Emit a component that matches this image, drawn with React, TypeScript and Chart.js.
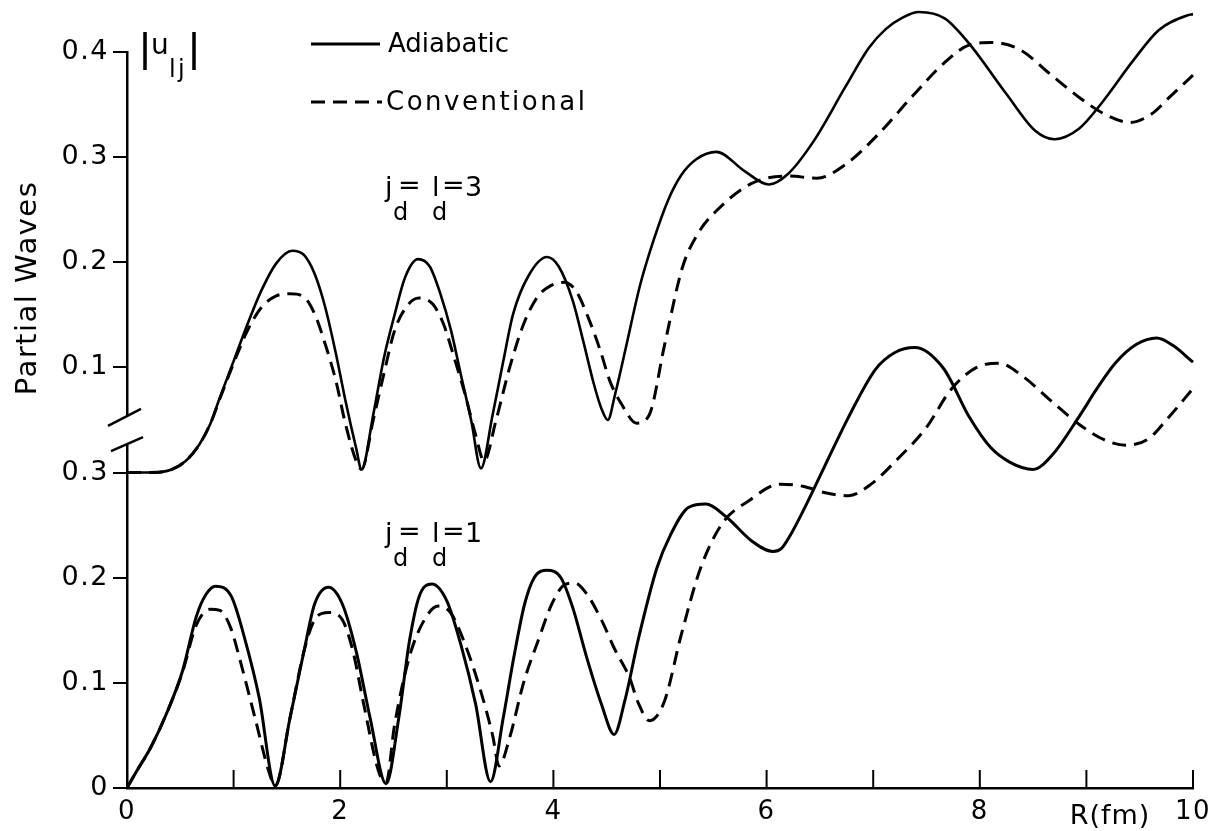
import React, { useEffect, useRef } from "react";
import { Chart, registerables } from "chart.js";

Chart.register(...registerables);

// ---- data (R in fm, |u_lj| values) ----
// j_d = l_d = 1 (lower panel)
const adiabatic1R = [0, 0.09, 0.22, 0.38, 0.52, 0.65, 0.74, 0.83, 0.98, 1.11, 1.24, 1.39, 1.53, 1.66, 1.76, 1.89, 2.02, 2.15, 2.28, 2.43, 2.55, 2.65, 2.74, 2.86, 3.0, 3.13, 3.27, 3.41, 3.53, 3.63, 3.73, 3.82, 3.94, 4.07, 4.18, 4.31, 4.45, 4.57, 4.67, 4.8, 4.97, 5.1, 5.27, 5.43, 5.62, 5.86, 6.06, 6.14, 6.22, 6.33, 6.54, 6.77, 7.02, 7.2, 7.39, 7.66, 7.9, 8.1, 8.28, 8.5, 8.69, 8.93, 9.1, 9.27, 9.47, 9.66, 9.81, 10];
const adiabatic1U = [0, 0.016, 0.038, 0.073, 0.111, 0.163, 0.184, 0.192, 0.182, 0.14, 0.086, 0.002, 0.067, 0.13, 0.175, 0.191, 0.175, 0.13, 0.067, 0.004, 0.067, 0.14, 0.182, 0.194, 0.178, 0.137, 0.08, 0.006, 0.067, 0.125, 0.175, 0.2, 0.207, 0.2, 0.172, 0.125, 0.08, 0.051, 0.083, 0.143, 0.209, 0.241, 0.267, 0.27, 0.258, 0.235, 0.225, 0.228, 0.24, 0.261, 0.305, 0.353, 0.398, 0.414, 0.419, 0.399, 0.353, 0.324, 0.31, 0.303, 0.318, 0.353, 0.38, 0.404, 0.422, 0.428, 0.421, 0.405];
const conventional1R = [0, 0.09, 0.22, 0.38, 0.52, 0.65, 0.78, 0.87, 0.97, 1.07, 1.2, 1.33, 1.39, 1.53, 1.66, 1.76, 1.89, 2.02, 2.12, 2.22, 2.36, 2.43, 2.51, 2.65, 2.79, 2.92, 3.04, 3.17, 3.31, 3.43, 3.49, 3.59, 3.72, 3.86, 3.99, 4.1, 4.2, 4.31, 4.45, 4.58, 4.71, 4.8, 4.9, 5.04, 5.2, 5.38, 5.58, 5.83, 6.13, 6.34, 6.54, 6.77, 6.98, 7.22, 7.5, 7.73, 7.97, 8.18, 8.41, 8.66, 8.93, 9.17, 9.37, 9.58, 9.75, 10];
const conventional1U = [0, 0.016, 0.038, 0.073, 0.11, 0.155, 0.17, 0.169, 0.153, 0.118, 0.067, 0.016, 0.002, 0.067, 0.13, 0.16, 0.167, 0.16, 0.13, 0.08, 0.016, 0.005, 0.06, 0.125, 0.16, 0.173, 0.166, 0.137, 0.095, 0.05, 0.021, 0.048, 0.1, 0.141, 0.176, 0.193, 0.195, 0.185, 0.16, 0.131, 0.106, 0.08, 0.064, 0.082, 0.146, 0.209, 0.251, 0.273, 0.289, 0.287, 0.281, 0.278, 0.289, 0.312, 0.343, 0.379, 0.4, 0.404, 0.391, 0.369, 0.346, 0.331, 0.326, 0.332, 0.35, 0.38];

// j_d = l_d = 3 (upper panel, plotted above the axis break)
const adiabatic3R = [0, 0.22, 0.42, 0.55, 0.68, 0.78, 0.87, 1.0, 1.13, 1.26, 1.4, 1.55, 1.66, 1.76, 1.86, 1.96, 2.05, 2.15, 2.2, 2.31, 2.41, 2.51, 2.61, 2.73, 2.84, 2.94, 3.04, 3.13, 3.23, 3.32, 3.43, 3.53, 3.62, 3.76, 3.94, 4.05, 4.18, 4.28, 4.38, 4.45, 4.51, 4.58, 4.68, 4.81, 4.94, 5.08, 5.2, 5.34, 5.53, 5.79, 6.02, 6.2, 6.44, 6.74, 6.96, 7.12, 7.28, 7.43, 7.67, 7.9, 8.25, 8.52, 8.7, 8.93, 9.14, 9.44, 9.68, 9.95, 10];
const adiabatic3U = [0, 0, 0.003, 0.011, 0.027, 0.046, 0.071, 0.106, 0.141, 0.173, 0.199, 0.211, 0.207, 0.189, 0.157, 0.113, 0.068, 0.023, 0.003, 0.055, 0.109, 0.15, 0.186, 0.203, 0.196, 0.17, 0.135, 0.094, 0.049, 0.004, 0.055, 0.106, 0.15, 0.186, 0.205, 0.196, 0.164, 0.125, 0.084, 0.061, 0.05, 0.075, 0.119, 0.177, 0.221, 0.26, 0.283, 0.298, 0.305, 0.287, 0.274, 0.284, 0.315, 0.367, 0.404, 0.422, 0.433, 0.438, 0.432, 0.408, 0.36, 0.325, 0.317, 0.327, 0.351, 0.392, 0.421, 0.435, 0.436];
const conventional3R = [0, 0.22, 0.42, 0.55, 0.68, 0.78, 0.87, 1.0, 1.13, 1.26, 1.4, 1.53, 1.66, 1.76, 1.86, 1.96, 2.05, 2.15, 2.2, 2.31, 2.41, 2.51, 2.64, 2.74, 2.87, 2.97, 3.07, 3.17, 3.27, 3.35, 3.46, 3.59, 3.72, 3.85, 3.98, 4.1, 4.21, 4.34, 4.44, 4.53, 4.64, 4.78, 4.9, 5.04, 5.21, 5.36, 5.52, 5.86, 6.2, 6.47, 6.74, 7.05, 7.36, 7.66, 7.91, 8.11, 8.38, 8.66, 8.93, 9.17, 9.41, 9.61, 9.78, 10];
const conventional3U = [0, 0, 0.003, 0.011, 0.027, 0.046, 0.07, 0.104, 0.135, 0.157, 0.168, 0.17, 0.167, 0.151, 0.122, 0.087, 0.046, 0.011, 0.003, 0.05, 0.094, 0.135, 0.16, 0.166, 0.16, 0.141, 0.109, 0.075, 0.036, 0.011, 0.049, 0.1, 0.141, 0.167, 0.178, 0.181, 0.173, 0.144, 0.116, 0.087, 0.065, 0.047, 0.055, 0.12, 0.195, 0.228, 0.248, 0.275, 0.282, 0.28, 0.293, 0.322, 0.357, 0.389, 0.407, 0.409, 0.402, 0.379, 0.357, 0.341, 0.333, 0.341, 0.357, 0.378];

// axis break: the upper panel's zero sits at the lower panel's 0.3
const breakOffset = 0.3;
const xTickLabels = ["0", "", "2", "", "4", "", "6", "", "8", "", "10"];
const yTickLabels = ["0", "0.1", "0.2", "0.3", "0.1", "0.2", "0.3", "0.4"];
const seriesNames = ["Adiabatic", "Conventional"];
const panelLabels = ["1", "3"];

const FONT = "'DejaVu Sans', sans-serif";
const DASH = [14, 8];

function toPoints(r: number[], u: number[], off = 0) {
  return r.map((x, i) => ({ x, y: u[i] + off }));
}

const decorPlugin = {
  id: "decor",
  beforeDraw(chart: any) {
    const ctx = chart.ctx;
    ctx.save();
    ctx.fillStyle = "#fff";
    ctx.fillRect(0, 0, chart.width, chart.height);
    ctx.restore();
    ctx.letterSpacing = "1.5px";
  },
  afterDraw(chart: any) {
    const { ctx, chartArea } = chart;
    const x = chart.scales.x;
    const y = chart.scales.y;
    ctx.letterSpacing = "0px";
    ctx.save();
    ctx.strokeStyle = "#000";
    ctx.fillStyle = "#000";
    ctx.lineCap = "butt";

    // inward x ticks
    ctx.lineWidth = 2;
    for (let v = 1; v <= 10; v++) {
      const px = x.getPixelForValue(v);
      ctx.beginPath();
      ctx.moveTo(px, chartArea.bottom);
      ctx.lineTo(px, chartArea.bottom - 18);
      ctx.stroke();
    }

    // axis break on y axis
    const ax = chartArea.left;
    const gTop = y.getPixelForValue(0.354);
    const gBot = y.getPixelForValue(0.327);
    ctx.fillStyle = "#fff";
    ctx.fillRect(ax - 3, gTop, 6, gBot - gTop);
    ctx.fillStyle = "#000";
    ctx.lineWidth = 2.5;
    ctx.beginPath();
    ctx.moveTo(ax - 19, gTop + 10);
    ctx.lineTo(ax + 14, gTop - 7);
    ctx.moveTo(ax - 16, gBot + 7);
    ctx.lineTo(ax + 16, gBot - 7);
    ctx.stroke();

    // legend
    ctx.lineWidth = 3;
    ctx.beginPath();
    ctx.moveTo(311, 44);
    ctx.lineTo(380, 44);
    ctx.stroke();
    ctx.setLineDash(DASH);
    ctx.beginPath();
    ctx.moveTo(311, 102);
    ctx.lineTo(382, 102);
    ctx.stroke();
    ctx.setLineDash([]);
    ctx.textBaseline = "middle";
    ctx.textAlign = "left";
    ctx.font = `26px ${FONT}`;
    ctx.letterSpacing = "0px";
    ctx.fillText(seriesNames[0], 388, 45);
    ctx.letterSpacing = "2.5px";
    ctx.fillText(seriesNames[1], 386, 103);
    ctx.letterSpacing = "0px";

    // |u_lj|
    ctx.lineWidth = 3.5;
    ctx.beginPath();
    ctx.moveTo(145, 32);
    ctx.lineTo(145, 70);
    ctx.moveTo(194, 32);
    ctx.lineTo(194, 70);
    ctx.stroke();
    ctx.textBaseline = "alphabetic";
    ctx.font = `28px ${FONT}`;
    ctx.fillText("u", 151, 54);
    ctx.font = `24px ${FONT}`;
    ctx.fillText("l", 169, 77);
    ctx.fillText("j", 178, 77);

    // panel annotations j_d = l_d = n
    const drawPanel = (base: number, n: string) => {
      ctx.font = `27px ${FONT}`;
      ctx.fillText("j", 385, base);
      ctx.fillText("=", 398, base - 2);
      ctx.fillText("l", 432, base);
      ctx.fillText("=", 442, base - 2);
      ctx.fillText(n, 465, base);
      ctx.font = `24px ${FONT}`;
      ctx.fillText("d", 393, base + 24);
      ctx.fillText("d", 432, base + 24);
    };
    drawPanel(196, panelLabels[1]);
    drawPanel(542, panelLabels[0]);

    // axis titles
    ctx.textAlign = "center";
    ctx.textBaseline = "middle";
    ctx.font = `27px ${FONT}`;
    ctx.letterSpacing = "1px";
    ctx.fillText("R(fm)", 1110, 817);
    ctx.save();
    ctx.translate(28, 288);
    ctx.rotate(-Math.PI / 2);
    ctx.font = `29px ${FONT}`;
    ctx.letterSpacing = "1.5px";
    ctx.fillText("Partial Waves", 0, 0);
    ctx.restore();

    ctx.restore();
    ctx.letterSpacing = "0px";
  },
};

export default function App() {
  const ref = useRef<HTMLCanvasElement | null>(null);
  useEffect(() => {
    if (!ref.current) return;
    const base = { borderColor: "#000", backgroundColor: "#000", pointRadius: 0, fill: false, cubicInterpolationMode: "monotone" as const, clip: false as any };
    const chart = new Chart(ref.current, {
      type: "line",
      data: {
        datasets: [
          { ...base, label: seriesNames[0] + " jd=ld=" + panelLabels[0], data: toPoints(adiabatic1R, adiabatic1U), borderWidth: 3 },
          { ...base, label: seriesNames[1] + " jd=ld=" + panelLabels[0], data: toPoints(conventional1R, conventional1U), borderWidth: 3, borderDash: DASH },
          { ...base, label: seriesNames[0] + " jd=ld=" + panelLabels[1], data: toPoints(adiabatic3R, adiabatic3U, breakOffset), borderWidth: 2.6 },
          { ...base, label: seriesNames[1] + " jd=ld=" + panelLabels[1], data: toPoints(conventional3R, conventional3U, breakOffset), borderWidth: 3, borderDash: DASH },
        ],
      },
      options: {
        animation: false,
        responsive: true,
        maintainAspectRatio: false,
        layout: { padding: { left: 0, top: 52, right: 19, bottom: 0 } },
        plugins: { legend: { display: false }, tooltip: { enabled: false } },
        scales: {
          x: {
            type: "linear",
            min: 0,
            max: 10,
            afterFit: (s: any) => { s.height = 43; s.paddingLeft = 0; s.paddingRight = 0; },
            grid: { display: false, drawTicks: false },
            border: { display: true, color: "#000", width: 2.5 },
            ticks: {
              stepSize: 1,
              autoSkip: false,
              maxRotation: 0,
              padding: 9,
              color: "#000",
              font: { family: FONT, size: 26 },
              callback: (v: any) => xTickLabels[Math.round(Number(v))] ?? "",
            },
          },
          y: {
            type: "linear",
            min: 0,
            max: 0.7,
            afterFit: (s: any) => { s.width = 127; s.paddingTop = 0; s.paddingBottom = 0; },
            grid: { display: true, drawOnChartArea: false, drawTicks: true, tickLength: 14, color: "#000", lineWidth: 2 },
            border: { display: true, color: "#000", width: 2.5 },
            ticks: {
              stepSize: 0.1,
              padding: 4,
              color: "#000",
              font: { family: FONT, size: 27 },
              callback: (v: any) => yTickLabels[Math.round(Number(v) * 10)] ?? "",
            },
          },
        },
      },
      plugins: [decorPlugin],
    });
    return () => chart.destroy();
  }, []);
  return (
    <div style={{ position: "absolute", left: 0, top: 0, width: 1212, height: 831, background: "#fff" }}>
      <canvas ref={ref} />
    </div>
  );
}
